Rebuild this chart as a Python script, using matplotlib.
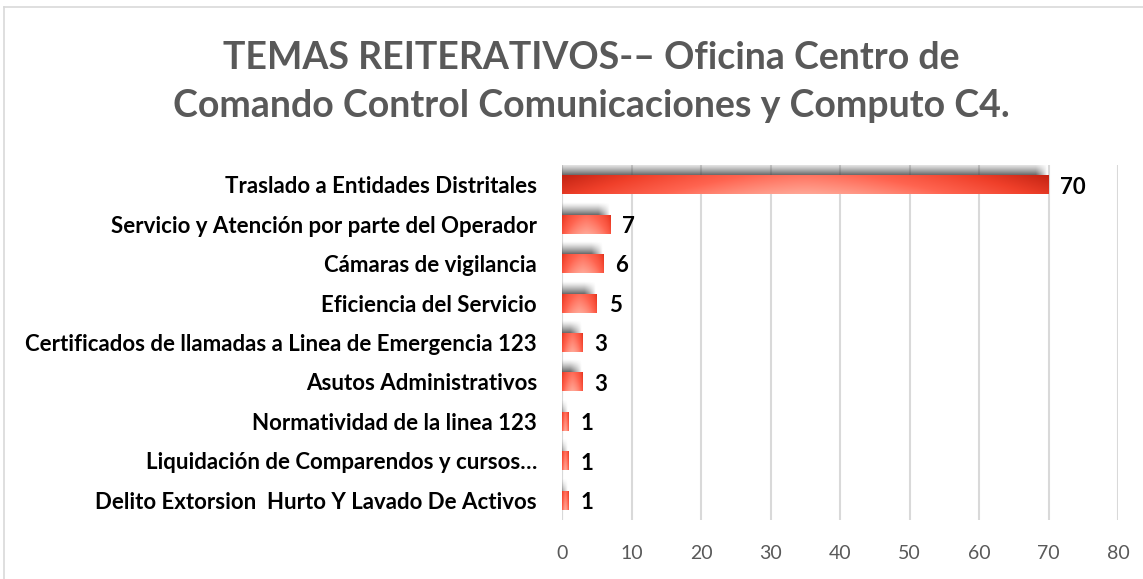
"""Temas reiterativos - Oficina C4: horizontal bar chart."""

import matplotlib

matplotlib.use("Agg")
import matplotlib.pyplot as plt
import numpy as np
from matplotlib.colors import LinearSegmentedColormap
from matplotlib.lines import Line2D

categories = [
    "Traslado a Entidades Distritales",
    "Servicio y Atención por parte del Operador",
    "Cámaras de vigilancia",
    "Eficiencia del Servicio",
    "Certificados de llamadas a Linea de Emergencia 123",
    "Asutos Administrativos",
    "Normatividad de la linea 123",
    "Liquidación de Comparendos y cursos…",
    "Delito Extorsion  Hurto Y Lavado De Activos",
]
values = [70, 7, 6, 5, 3, 3, 1, 1, 1]
xticks = [0, 10, 20, 30, 40, 50, 60, 70, 80]

plt.rcParams["font.family"] = ["Lato", "DejaVu Sans"]

fig = plt.figure(figsize=(11.43, 5.79), dpi=100)
ax = fig.add_axes([562 / 1143, 1 - 520 / 579, (1118 - 562) / 1143, (520 - 165) / 579])

# outer chart border
fig.add_artist(Line2D([4 / 1143, 4 / 1143], [0, 1 - 7 / 579], color="#d9d9d9", lw=1.2))
fig.add_artist(Line2D([4 / 1143, 1], [1 - 7 / 579, 1 - 7 / 579], color="#d9d9d9", lw=1.2))

cmap = LinearSegmentedColormap.from_list(
    "bar", ["#c42414", "#f0402a", "#ff6450", "#ffa594"]
)
bar_h = 0.48
sh_h = 0.32
n = len(categories)
for i, v in enumerate(values):
    top = i - bar_h / 2
    # blurred shadow sitting on top of the bar, darkest next to it
    xs = np.linspace(0, v + 1, 400)
    ax_fade = np.clip((v - 0.2 - xs) / 1.6, 0, 1) ** 0.8
    ys = np.linspace(0, 1, 30)  # 0 = upper edge, 1 = bar top
    alpha = np.outer(ys ** 1.3, ax_fade) * 0.8
    shadow = np.zeros((30, 400, 4))
    shadow[..., :3] = 0.27
    shadow[..., 3] = alpha
    ax.imshow(shadow, aspect="auto", extent=[0, v + 1, top, top - sh_h],
              origin="upper", zorder=2, interpolation="bilinear")
    # gradient fill: dark at ends, light in the middle, a bit lighter at the bottom
    u = np.linspace(0, 1, 200)
    w = np.linspace(0, 1, 20)
    horiz = 1 - np.abs(2 * u - 1) ** 1.5
    img = np.clip(horiz[None, :] * 0.75 + 0.25 * w[:, None], 0, 1)
    if v < 10:
        img = np.clip(0.15 + 0.55 * horiz[None, :] ** 0.6 + 0.3 * w[:, None], 0, 1)
    ax.imshow(img, cmap=cmap, vmin=0, vmax=1, aspect="auto",
              extent=[0, v, i + bar_h / 2, top], origin="upper",
              zorder=3, interpolation="bilinear")
    ax.text(v + 1.7, i + 0.06, str(v), va="center", ha="left",
            fontsize=16, fontweight="bold", color="black", zorder=4)

ax.set_xlim(0, 80)
ax.set_ylim(n - 0.5, -0.5)
ax.set_aspect("auto")
ax.set_xticks(xticks)
ax.set_yticks(range(n))
ax.set_yticklabels(categories, fontsize=16, fontweight="bold", color="black")
ax.tick_params(axis="y", length=0, pad=18)
ax.tick_params(axis="x", length=0, pad=18, labelsize=14, labelcolor="#595959")
ax.grid(axis="x", color="#d9d9d9", lw=1.5, zorder=0)
ax.set_axisbelow(True)
for s in ax.spines.values():
    s.set_visible(False)
ax.axvline(0, color="#d9d9d9", lw=1.5, zorder=1)

fig.text(0.517, 1 - 82 / 579,
         "TEMAS REITERATIVOS-– Oficina Centro de\nComando Control Comunicaciones y Computo C4.",
         ha="center", va="center", fontsize=27, fontweight="bold",
         color="#595959", linespacing=1.47)

fig.savefig("out.png", dpi=100)
